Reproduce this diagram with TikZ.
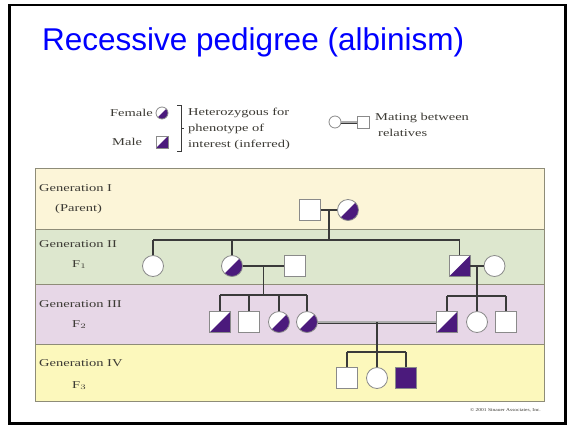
\documentclass[tikz,border=0pt]{standalone}
\usepackage{fontspec}
\usepackage{graphicx}
\setmainfont{Liberation Serif}
\newfontfamily\titlefont{Liberation Sans}
\usetikzlibrary{calc}

\definecolor{purp}{HTML}{4B1A7C}
\definecolor{bandI}{HTML}{FCF5D8}
\definecolor{bandII}{HTML}{DDE7CE}
\definecolor{bandIII}{HTML}{E7D7E7}
\definecolor{bandIV}{HTML}{FCF8BC}
\definecolor{bandline}{HTML}{8E8C78}
\definecolor{linecol}{HTML}{3A3A3A}
\definecolor{symline}{HTML}{8A8A8A}
\definecolor{labelcol}{HTML}{3C3A34}

% horizontally widened serif text for the labels
\newcommand\widetext[1]{\scalebox{1.38}[1]{#1}}

\begin{document}
\begin{tikzpicture}[x=1pt,y=-1pt,
  sym/.style={draw=symline, fill=white, line width=0.8pt, inner sep=0pt, minimum size=21pt},
  male/.style={sym, rectangle},
  female/.style={sym, circle},
  het/.style={path picture={\fill[purp] (path picture bounding box.south west) -- (path picture bounding box.north east) -- (path picture bounding box.south east) -- cycle;}},
  affected/.style={fill=purp},
  small/.style={minimum size=12pt},
  line/.style={draw=linecol, line width=1.1pt},
  kin/.style={draw=linecol, line width=0.7pt, double=symline!70, double distance=1.6pt},
  lab/.style={inner sep=0pt, anchor=base west, text=labelcol, font=\fontsize{10.5}{12}\selectfont}
]
\useasboundingbox (0,0) rectangle (568,426);

% slide frame and title
\draw[line width=2.5pt, black] (9.5,5) rectangle (565.5,423.5);
\node[anchor=base west, inner sep=0pt, text={rgb,255:red,0;green,0;blue,255},
      font=\titlefont\fontsize{31.5}{36}\selectfont] (title) at (42,50) {Recessive pedigree (albinism)};

% generation bands
\fill[bandI]   (35,168) rectangle (544,229);
\fill[bandII]  (35,229) rectangle (544,284);
\fill[bandIII] (35,284) rectangle (544,344);
\fill[bandIV]  (35,344) rectangle (544,401);
\draw[bandline, line width=0.9pt] (35,168) rectangle (544,401);
\draw[bandline, line width=0.9pt] (35,229) -- (544,229) (35,284) -- (544,284) (35,344) -- (544,344);

% generation labels
\node[lab] (gI)  at (39,191) {\widetext{Generation I}};
\node[lab] (pI)  at (55,211) {\widetext{(Parent)}};
\node[lab] (gII) at (39,247) {\widetext{Generation II}};
\node[lab] (fII) at (72,267) {\widetext{F$_1$}};
\node[lab] (gIII) at (39,307) {\widetext{Generation III}};
\node[lab] (fIII) at (72,327) {\widetext{F$_2$}};
\node[lab] (gIV) at (39,366) {\widetext{Generation IV}};
\node[lab] (fIV) at (72,388) {\widetext{F$_3$}};

% legend
\node[lab, anchor=base east] (lfem)  at (153,116) {\widetext{Female}};
\node[lab] (lmale) at (112,145) {\widetext{Male}};
\node[female, het, small] (lf) at (162,113) {};
\node[male, het, small]   (lm) at (162,142) {};
\draw[linecol, line width=0.6pt] (177,105) -- (181,105) -- (181,151) -- (177,151)
      (181,128) -- (184,128);
\node[lab] (lh1) at (188,115) {\widetext{Heterozygous for}};
\node[lab] (lh2) at (188,131) {\widetext{phenotype of}};
\node[lab] (lh3) at (188,147) {\widetext{interest (inferred)}};
\node[female, small] (kf) at (335,122) {};
\node[male, small]   (km) at (363,122) {};
\draw[kin] (kf) -- (km);
\node[lab] (lk1) at (375,120) {\widetext{Mating between}};
\node[lab] (lk2) at (378,136) {\widetext{relatives}};

% sibship levels
\coordinate (s2) at (0,240);
\coordinate (s3) at (0,295);
\coordinate (s3r) at (0,296);
\coordinate (s4) at (0,352);

% Generation I
\node[male] (i1) at (310,210) {};
\node[female, het] (i2) at (348,210) {};
\draw[line] (i1) -- (i2);
\coordinate (c1) at ($(i1)!0.5!(i2)$);

% Generation II
\node[female] (ii1) at (153,266) {};
\node[female, het] (ii2) at (232,266) {};
\node[male] (ii3) at (295,266) {};
\node[male, het] (ii4) at (459.5,266) {};
\node[female] (ii5) at (494.5,266) {};
\draw[line] (c1) -- (c1 |- s2);
\draw[line] (ii1.north |- s2) -- (ii4.north |- s2);
\foreach \k in {ii1,ii2,ii4} \draw[line] (\k.north) -- (\k.north |- s2);
\draw[line] (ii2) -- (ii3);
\draw[line] (ii4) -- (ii5);
\coordinate (c2) at ($(ii2)!0.5!(ii3)$);
\coordinate (c2r) at ($(ii4)!0.5!(ii5)$);

% Generation III
\node[male, het] (iii1) at (220,322) {};
\node[male] (iii2) at (249,322) {};
\node[female, het] (iii3) at (279,322) {};
\node[female, het] (iii4) at (307,322) {};
\node[male, het] (iii5) at (447,322) {};
\node[female] (iii6) at (477,322) {};
\node[male] (iii7) at (506,322) {};
\draw[line] (c2) -- (c2 |- s3);
\draw[line] (iii1.north |- s3) -- (iii4.north |- s3);
\foreach \k in {iii1,iii2,iii3,iii4} \draw[line] (\k.north) -- (\k.north |- s3);
\draw[line] (c2r) -- (c2r |- s3r);
\draw[line] (iii5.north |- s3r) -- (iii7.north |- s3r);
\foreach \k in {iii5,iii6,iii7} \draw[line] (\k.north) -- (\k.north |- s3r);
\draw[kin] (iii4) -- (iii5);
\coordinate (c3) at ($(iii4)!0.5!(iii5)$);

% Generation IV
\node[male] (iv1) at (347,378) {};
\node[female] (iv2) at (377,378) {};
\node[male, affected] (iv3) at (406,378) {};
\draw[line] (c3) -- (c3 |- s4);
\draw[line] (iv1.north |- s4) -- (iv3.north |- s4);
\foreach \k in {iv1,iv2,iv3} \draw[line] (\k.north) -- (\k.north |- s4);

% credit line
\node[inner sep=0pt, anchor=base east, text=labelcol, font=\fontsize{4.5}{5}\selectfont] (credit) at (541,411) {\scalebox{1.22}[1]{\textcopyright{} 2001 Sinauer Associates, Inc.}};
\end{tikzpicture}
\end{document}
